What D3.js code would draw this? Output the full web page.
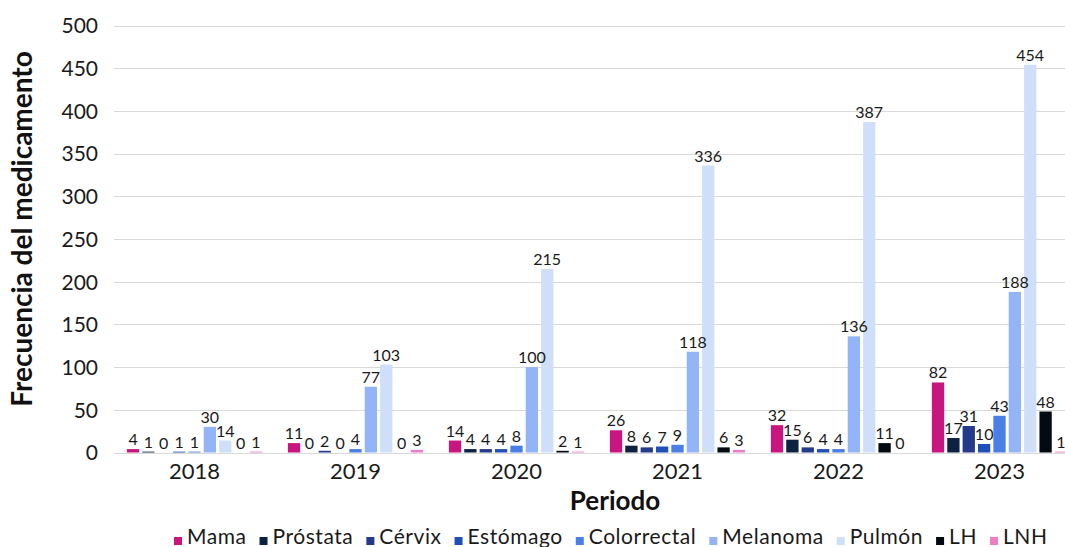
<!DOCTYPE html>
<html>
<head>
<meta charset="utf-8">
<script src="https://cdn.jsdelivr.net/npm/d3@7"></script>
<style>
  html, body { margin: 0; padding: 0; background: #fff; }
  svg { display: block; font-family: Lato, "Noto Sans", sans-serif; }
</style>
</head>
<body>
<svg id="chart" width="1065" height="547"></svg>
<script>
// Periods on the x axis
const periods = ["2018", "2019", "2020", "2021", "2022", "2023"];

// Cancer types (one bar per type within each period)
const series = ["Mama", "Próstata", "Cérvix", "Estómago", "Colorrectal", "Melanoma", "Pulmón", "LH", "LNH"];
const seriesColors = ["#c8157f", "#0c2240", "#253a8a", "#1f4fb7", "#4a7fe6", "#93b5f7", "#cfdffa", "#030a14", "#ee7cc6"];

// Frequency of the drug per type, one array per period (same order as series)
const v2018 = [4, 1, 0, 1, 1, 30, 14, 0, 1];
const v2019 = [11, 0, 2, 0, 4, 77, 103, 0, 3];
const v2020 = [14, 4, 4, 4, 8, 100, 215, 2, 1];
const v2021 = [26, 8, 6, 7, 9, 118, 336, 6, 3];
const v2022 = [32, 15, 6, 4, 4, 136, 387, 11, 0];
const v2023 = [82, 17, 31, 10, 43, 188, 454, 48, 1];
const values = [v2018, v2019, v2020, v2021, v2022, v2023];

const yTicks = [0, 50, 100, 150, 200, 250, 300, 350, 400, 450, 500];

const svg = d3.select("#chart");
const plot = { left: 114, right: 1080, top: 25.5, bottom: 452.5 };

const x0 = d3.scaleBand().domain(periods).range([plot.left, plot.right])
  .paddingInner(0.16).paddingOuter(0.08);
const x1 = d3.scaleBand().domain(series).range([0, x0.bandwidth()]).padding(0.2).paddingOuter(0);
const y = d3.scaleLinear().domain([0, 500]).range([plot.bottom, plot.top]);

// Horizontal gridlines
svg.append("g")
  .selectAll("line").data(yTicks).join("line")
  .attr("x1", plot.left).attr("x2", plot.right)
  .attr("y1", d => Math.round(y(d)) + 0.5).attr("y2", d => Math.round(y(d)) + 0.5)
  .attr("stroke", "#d9d9d9").attr("stroke-width", 1);

// Y axis tick labels
const yAxis = svg.append("g")
  .attr("transform", `translate(${plot.left - 16},0)`)
  .call(d3.axisLeft(y).tickValues(yTicks).tickSize(0).tickPadding(0));
yAxis.select(".domain").remove();
yAxis.selectAll("text")
  .attr("font-family", "Lato, 'Noto Sans', sans-serif")
  .attr("font-size", 21).attr("fill", "#1a1a1a").attr("dy", "0.35em");

// X axis labels
const xAxis = svg.append("g")
  .attr("transform", `translate(0,${plot.bottom + 9})`)
  .call(d3.axisBottom(x0).tickSize(0).tickPadding(0));
xAxis.select(".domain").remove();
xAxis.selectAll("text")
  .attr("font-family", "Lato, 'Noto Sans', sans-serif")
  .attr("font-size", 22).attr("fill", "#1a1a1a").attr("dy", "0.8em");

// Bars and value labels
const groups = svg.append("g").selectAll("g").data(periods).join("g")
  .attr("transform", d => `translate(${x0(d)},0)`);

const cells = (p, i) => series.map((s, j) => ({ s, j, v: values[i][j] }));

groups.selectAll("rect").data(cells).join("rect")
  .attr("x", d => x1(d.s))
  .attr("width", x1.bandwidth())
  .attr("y", d => y(d.v))
  .attr("height", d => y(0) - y(d.v))
  .attr("fill", d => seriesColors[d.j]);

groups.selectAll("text").data(cells).join("text")
  .attr("x", d => x1(d.s) + x1.bandwidth() / 2)
  .attr("y", d => y(d.v) - 4)
  .attr("text-anchor", "middle")
  .attr("font-size", 16).attr("fill", "#1a1a1a")
  .text(d => d.v);

// Axis titles
svg.append("text")
  .attr("transform", `translate(32,229) rotate(-90)`)
  .attr("text-anchor", "middle")
  .attr("font-size", 28).attr("font-weight", "bold").attr("fill", "#111")
  .text("Frecuencia del medicamento");

svg.append("text")
  .attr("x", 615).attr("y", 510)
  .attr("text-anchor", "middle")
  .attr("font-size", 26).attr("font-weight", "bold").attr("fill", "#111")
  .text("Periodo");

// Legend
const legend = svg.append("g");
let lx = 174;
series.forEach((s, j) => {
  legend.append("rect")
    .attr("x", lx).attr("y", 537).attr("width", 8).attr("height", 8)
    .attr("fill", seriesColors[j]);
  const t = legend.append("text")
    .attr("x", lx + 13).attr("y", 544)
    .attr("font-size", 21).attr("letter-spacing", 0.55).attr("fill", "#1a1a1a")
    .text(s);
  lx += 13 + t.node().getComputedTextLength() + 13;
});
</script>
</body>
</html>
